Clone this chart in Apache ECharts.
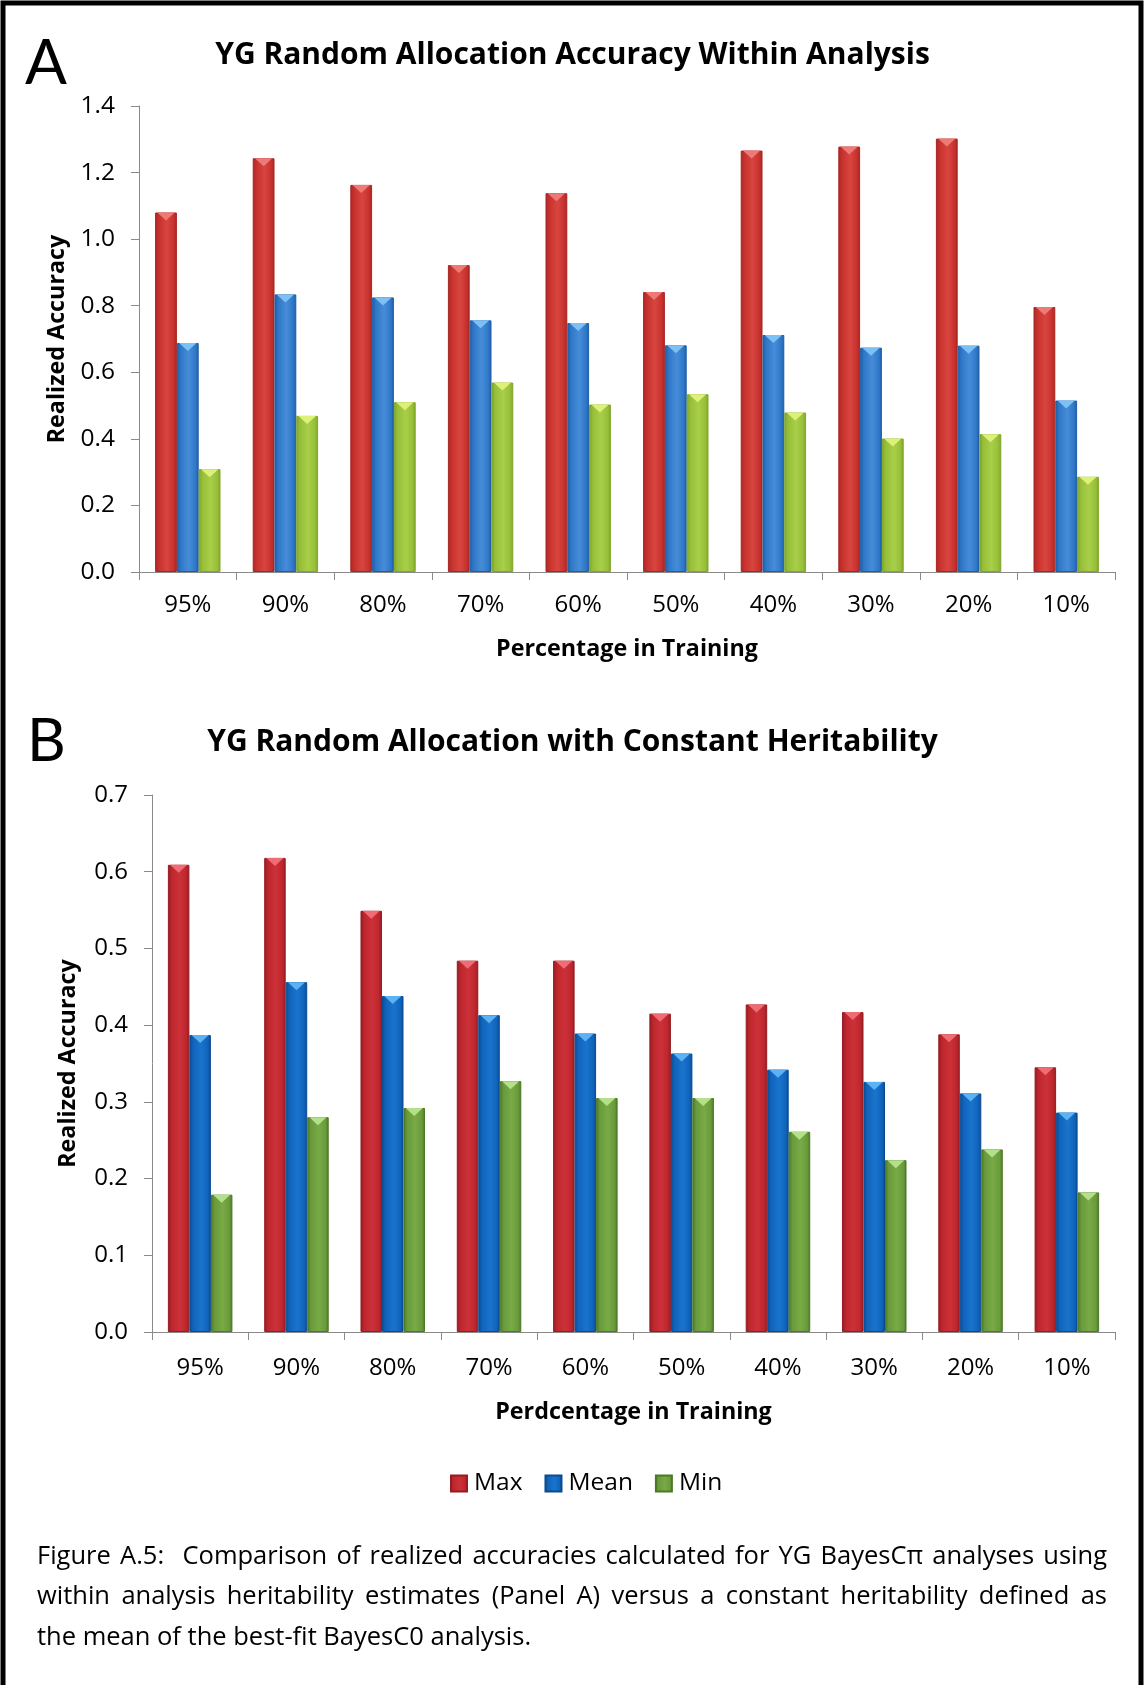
<!DOCTYPE html>
<html>
<head>
<meta charset="utf-8">
<script src="https://cdn.jsdelivr.net/npm/echarts@6/dist/echarts.min.js"></script>
<style>
  html, body { margin: 0; padding: 0; background: #fff; }
  #chart { position: absolute; left: 0; top: 0; width: 1145px; height: 1685px; }
  .cap { position: absolute; left: 37px; width: 1070px; font-family: 'Open Sans', Lato, sans-serif; font-size: 25.5px; color: #000; line-height: 30px; white-space: nowrap; }
  .just { text-align: justify; text-align-last: justify; white-space: normal; }
</style>
</head>
<body>
<div id="chart"></div>
<div class="cap just" style="top:1539px;">Figure A.5:&nbsp; Comparison of realized accuracies calculated for YG BayesCπ analyses using</div>
<div class="cap just" style="top:1579px;">within analysis heritability estimates (Panel A) versus a constant heritability defined as</div>
<div class="cap" style="top:1620px;">the mean of the best-fit BayesC0 analysis.</div>
<script>
// ---------------- data ----------------
const categories = ['95%', '90%', '80%', '70%', '60%', '50%', '40%', '30%', '20%', '10%'];
const seriesNames = ['Max', 'Mean', 'Min'];

// Panel A: within-analysis heritability
const maxA  = [1.080, 1.243, 1.163, 0.922, 1.138, 0.841, 1.266, 1.278, 1.302, 0.796];
const meanA = [0.688, 0.834, 0.825, 0.756, 0.748, 0.681, 0.712, 0.674, 0.680, 0.515];
const minA  = [0.309, 0.469, 0.510, 0.569, 0.503, 0.534, 0.479, 0.401, 0.414, 0.286];

// Panel B: constant heritability
const maxB  = [0.609, 0.618, 0.549, 0.484, 0.484, 0.415, 0.427, 0.417, 0.388, 0.345];
const meanB = [0.387, 0.456, 0.438, 0.413, 0.389, 0.363, 0.342, 0.326, 0.311, 0.286];
const minB  = [0.179, 0.280, 0.292, 0.327, 0.305, 0.305, 0.261, 0.224, 0.238, 0.182];

// axis ranges
const axisA = { min: 0, max: 1.4, interval: 0.2 };
const axisB = { min: 0, max: 0.7, interval: 0.1 };

// ---------------- styles ----------------
const paletteA = [
  { dark: '#a82622', mid: '#c8322e', light: '#d8453f', cap: '#ee7a78' },
  { dark: '#1e5ea6', mid: '#3078c8', light: '#468cd8', cap: '#7cc0f4' },
  { dark: '#7fa62a', mid: '#97bf3a', light: '#a9cf48', cap: '#dcf07a' }
];
const paletteB = [
  { dark: '#951c22', mid: '#be262d', light: '#cc3138', cap: '#f06c74' },
  { dark: '#0a4c92', mid: '#1064bc', light: '#1a74cc', cap: '#5cb2f2' },
  { dark: '#4d7826', mid: '#6a9b3c', light: '#78aa46', cap: '#b4e08a' }
];
const FONT = '"Open Sans", Lato, sans-serif';

function grad(p) {
  return new echarts.graphic.LinearGradient(0, 0, 1, 0, [
    { offset: 0, color: p.dark },
    { offset: 0.18, color: p.mid },
    { offset: 0.55, color: p.light },
    { offset: 0.85, color: p.mid },
    { offset: 1, color: p.dark }
  ]);
}

function barSeries(name, data, idx, p) {
  return {
    type: 'bar', name: name, data: data,
    xAxisIndex: idx, yAxisIndex: idx,
    barGap: '0%', barCategoryGap: '33%',
    itemStyle: { color: grad(p), borderColor: p.dark, borderWidth: 1 },
    z: 2
  };
}
function capSeries(name, data, idx, p) {
  return {
    type: 'pictorialBar', name: name + ' top', data: data,
    xAxisIndex: idx, yAxisIndex: idx,
    barGap: '0%', barCategoryGap: '33%',
    symbol: 'path://M0,0L10,0L5,8Z',
    symbolSize: ['80%', 8],
    symbolPosition: 'end',
    itemStyle: { color: p.cap },
    silent: true, z: 3
  };
}

const dataA = [maxA, meanA, minA];
const dataB = [maxB, meanB, minB];
const series = [];
// Panel B first so the legend takes its colours
seriesNames.forEach((n, i) => series.push(barSeries(n, dataB[i], 1, paletteB[i])));
seriesNames.forEach((n, i) => series.push(barSeries(n, dataA[i], 0, paletteA[i])));
seriesNames.forEach((n, i) => series.push(capSeries(n, dataB[i], 1, paletteB[i])));
seriesNames.forEach((n, i) => series.push(capSeries(n, dataA[i], 0, paletteA[i])));

function xAxis(gridIndex, name, nameGap, labelMargin) {
  return {
    type: 'category', gridIndex: gridIndex, data: categories,
    boundaryGap: true,
    axisLine: { lineStyle: { color: '#8a8a8a', width: 1 } },
    axisTick: { show: true, length: 8, lineStyle: { color: '#8a8a8a' } },
    axisLabel: { color: '#000', fontFamily: FONT, fontSize: 24, margin: labelMargin },
    name: name, nameLocation: 'middle', nameGap: nameGap,
    nameTextStyle: { color: '#000', fontFamily: FONT, fontSize: 23.3, fontWeight: 'bold' }
  };
}
function yAxis(gridIndex, r, nameGap, fs) {
  return {
    type: 'value', gridIndex: gridIndex, min: r.min, max: r.max, interval: r.interval,
    splitLine: { show: false },
    axisLine: { show: true, lineStyle: { color: '#8a8a8a', width: 1 } },
    axisTick: { show: true, length: 8, lineStyle: { color: '#8a8a8a' } },
    axisLabel: { color: '#000', fontFamily: FONT, fontSize: fs, margin: 24,
      formatter: v => v.toFixed(1) },
    name: 'Realized Accuracy', nameLocation: 'middle', nameGap: nameGap, nameRotate: 90,
    nameTextStyle: { color: '#000', fontFamily: FONT, fontSize: 23.3, fontWeight: 'bold' }
  };
}

const chart = echarts.init(document.getElementById('chart'), null, { renderer: 'canvas' });
chart.setOption({
  backgroundColor: '#fff',
  animation: false,
  title: [
    { text: 'YG Random Allocation Accuracy Within Analysis', left: 'center', top: 35.5,
      textStyle: { fontFamily: FONT, fontWeight: 'bold', fontSize: 30, color: '#000' } },
    { text: 'YG Random Allocation with Constant Heritability', left: 'center', top: 722.5,
      textStyle: { fontFamily: FONT, fontWeight: 'bold', fontSize: 30, color: '#000' } }
  ],
  legend: {
    data: seriesNames, left: 450, top: 1471, padding: 0,
    itemWidth: 16, itemHeight: 16, itemGap: 22, icon: 'rect',
    textStyle: { fontFamily: FONT, fontSize: 24.5, color: '#000', padding: [0, 0, 0, 2] }
  },
  grid: [
    { left: 139, right: 30, top: 106, height: 466 },
    { left: 152, right: 30, top: 795, height: 537 }
  ],
  xAxis: [ xAxis(0, 'Percentage in Training', 66, 21), xAxis(1, 'Perdcentage in Training', 69, 24) ],
  yAxis: [ yAxis(0, axisA, 70, 24.5), yAxis(1, axisB, 72, 24) ],
  graphic: [
    { type: 'rect', shape: { x: 3, y: 3, width: 1138, height: 1690 },
      style: { fill: 'none', stroke: '#000', lineWidth: 5 }, silent: true },
    { type: 'text', left: 25, top: 33,
      style: { text: 'A', font: '62px Lato, "Open Sans", sans-serif', fill: '#000' } },
    { type: 'text', left: 27, top: 712,
      style: { text: 'B', font: '60px Lato, "Open Sans", sans-serif', fill: '#000' } }
  ],
  series: series
});
</script>
</body>
</html>
